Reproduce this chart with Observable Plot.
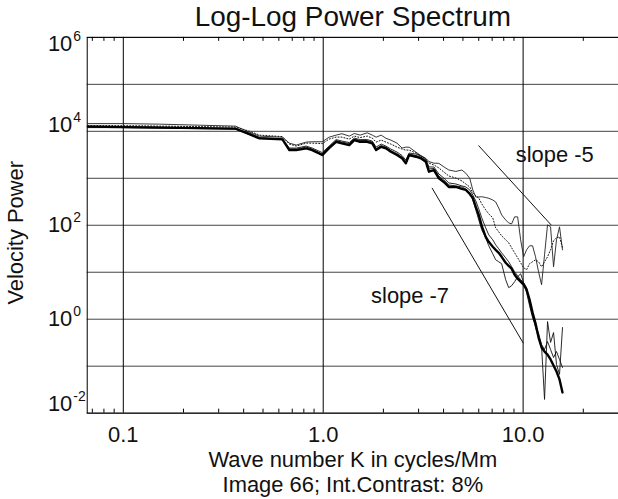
<!DOCTYPE html>
<html><head><meta charset="utf-8">
<script src="https://cdn.jsdelivr.net/npm/d3@7"></script>
<script src="https://cdn.jsdelivr.net/npm/@observablehq/plot@0.6"></script>
<style>
html,body{margin:0;padding:0;overflow:hidden;background:#fff;}
</style></head><body><div id="chart"></div>
<script>
// wave number K (cycles/Mm)
const k = [0.0665, 0.1, 0.152, 0.241, 0.364, 0.427, 0.48, 0.625, 0.677, 0.733, 0.823, 0.881, 0.989, 1.07, 1.16, 1.24, 1.35, 1.43, 1.53, 1.66, 1.76, 1.84, 1.95, 2.06, 2.18, 2.34, 2.48, 2.59, 2.69, 2.91, 3.08, 3.26, 3.38, 3.58, 3.79, 4.01, 4.25, 4.61, 4.94, 5.17, 5.41, 5.6, 5.8, 6.0, 6.21, 6.5, 6.73, 7.05, 7.29, 7.55, 7.81, 8.18, 8.47, 8.76, 9.07, 9.39, 9.72, 10.06, 10.41, 10.77, 11.15, 11.54, 11.95, 12.37, 12.8, 13.25, 13.72, 14.2, 14.69, 15.21, 15.74];

// velocity power, one array per spectrum
const specUpper = [14600, 14600, 14200, 13500, 12900, 9600, 7900, 7500, 5600, 5100, 5900, 6000, 6000, 7500, 8300, 8900, 7900, 9000, 8300, 9300, 8300, 7500, 8300, 7100, 6500, 5600, 4400, 4600, 4600, 3600, 3050, 2660, 2270, 2100, 2080, 1760, 1500, 1400, 1500, 1280, 1000, 565, 400, 400, 405, 390, 376, 346, 314, 234, 166, 130, 112, 107, 151, 151, 49, 21.3, 30, 36.6, 36.6, 21.3, 10.2, 5.43, 23.5, 102, 92.5, 13.1, 49, 92.5, 30];
const specThick = [12600, 12300, 12000, 11700, 11400, 8700, 7070, 6730, 3990, 3990, 4340, 3990, 3125, 4400, 5990, 5540, 5095, 6506, 5990, 5990, 5540, 3990, 4690, 4340, 3670, 3125, 2660, 2080, 3125, 2880, 2660, 2250, 1380, 1500, 1000, 835, 654, 654, 593, 565, 464, 382, 246, 166, 97, 56.8, 44.4, 34.8, 30, 25.9, 21.3, 15.9, 13.7, 11.9, 8.85, 7.28, 6.29, 5.43, 4.25, 2.61, 1.38, 0.806, 0.407, 0.2495, 0.205, 0.177, 0.139, 0.1035, 0.0772, 0.0522, 0.0276];
const specMid = [12000, 12000, 11700, 11400, 11100, 9160, 7350, 7000, 4400, 4400, 4850, 4400, 3530, 4850, 6670, 6200, 5760, 7170, 6670, 6670, 6200, 4620, 5350, 4850, 4190, 3620, 3050, 2447, 3450, 3280, 2980, 2570, 1740, 1740, 1235, 1015, 795, 757, 687, 654, 565, 442, 330, 223, 144, 88, 62.6, 49, 38.4, 31.6, 25.9, 20.3, 16.7, 13.1, 10.2, 8.43, 6.93, 5.99, 4.69, 2.25, 1.19, 0.663, 0.407, 0.262, 0.0196, 0.89, 0.32, 0.52, 0.109, 0.067, 0.663];
const specLow = [12900, 12600, 12300, 11700, 11400, 8510, 7170, 6830, 4190, 4190, 4620, 4190, 3280, 4620, 6350, 5900, 5480, 6830, 6350, 6350, 5900, 4290, 4970, 4620, 3890, 3360, 2830, 2270, 3280, 3050, 2830, 2390, 1580, 1620, 1120, 920, 721, 687, 654, 593, 488, 346, 212, 130, 80, 54, 36.6, 24.7, 18.4, 16.7, 15.2, 6.93, 4.69, 5.17, 6.29, 8.03, 9.29, 5.99, 3.67, 1.94, 1.08, 0.731, 0.495, 0.289, 0.226, 0.335, 0.226, 0.153, 0.205, 0.139, 0.0938];
const specDotted = [13200, 13200, 12900, 12600, 12300, 10100, 8300, 7720, 5350, 4850, 5600, 5600, 5480, 6830, 7530, 7530, 6830, 7910, 7350, 7910, 7170, 5900, 6500, 5900, 5350, 4620, 4190, 3990, 3990, 3450, 2980, 2570, 2110, 1917, 1660, 1360, 1120, 1015, 877, 757, 654, 488, 421, 382, 285, 212, 175, 144, 88, 72.5, 59.6, 49, 42.3, 33.2, 25.9, 20.3, 15.9, 12.5, 11.3, 15.2, 16.7, 18.4, 16.7, 13.1, 16.7, 21.3, 30, 46.7, 54, 56.8, 33.2];

// reference slope lines (endpoints) and their labels
const slope5 = [{k: 6.0, p: 4920}, {k: 13.8, p: 102}];
const slope7 = [{k: 3.51, p: 613}, {k: 10.0, p: 0.314}];
const slopeLabels = [{k: 14.4, p: 2220, text: "slope -5"}, {k: 2.72, p: 2.25, text: "slope -7"}];

// axes
const xMajor = [0.1, 1, 10];
const xMajorLabels = ["0.1", "1.0", "10.0"];
const xMinor = [0.07, 0.08, 0.09, 0.2, 0.3, 0.4, 0.5, 0.6, 0.7, 0.8, 0.9, 2, 3, 4, 5, 6, 7, 8, 9, 20];
const yGrid = [1e-2, 1e-1, 1e0, 1e1, 1e2, 1e3, 1e4, 1e5, 1e6];
const yLabelTicks = [1e6, 1e4, 1e2, 1e0, 1e-2];

const title = "Log-Log Power Spectrum";
const xTitle = "Wave number K in cycles/Mm";
const caption = "Image 66; Int.Contrast: 8%";
const yTitle = "Velocity Power";

const rows = (vals) => k.map((kk, i) => ({k: kk, p: vals[i]}));
const font = "'Liberation Sans', Arial, Helvetica, sans-serif";

function yLabels(ticks, shift) {
  return [
    Plot.text(ticks, {y: d => d, frameAnchor: "left", dx: -15, dy: shift, textAnchor: "end", lineAnchor: "middle", text: () => "10", fontSize: 22, fill: "#111"}),
    Plot.text(ticks, {y: d => d, frameAnchor: "left", dx: -14, dy: shift - 3, textAnchor: "start", lineAnchor: "bottom", text: d => String(Math.round(Math.log10(d))), fontSize: 14, fill: "#111"})
  ];
}

const chart = Plot.plot({
  width: 620,
  height: 499,
  marginLeft: 87,
  marginRight: 0,
  marginTop: 37,
  marginBottom: 85,
  style: {fontFamily: font, background: "#fff"},
  x: {type: "log", domain: [0.066, 30], axis: null},
  y: {type: "log", domain: [0.01, 1e6], axis: null},
  marks: [
    Plot.ruleY(yGrid, {stroke: "#444", strokeWidth: 1}),
    Plot.ruleX(xMajor, {stroke: "#000", strokeWidth: 1}),
    Plot.tickX(xMinor, {x: d => d, insetBottom: 373, stroke: "#000"}),
    Plot.tickX(xMinor, {x: d => d, insetTop: 373, stroke: "#000"}),
    Plot.frame({stroke: "#000"}),
    Plot.line(rows(specLow), {x: "k", y: "p", stroke: "#111", strokeWidth: 0.9}),
    Plot.line(rows(specMid), {x: "k", y: "p", stroke: "#111", strokeWidth: 0.9}),
    Plot.line(rows(specUpper), {x: "k", y: "p", stroke: "#222", strokeWidth: 0.9}),
    Plot.line(rows(specDotted), {x: "k", y: "p", stroke: "#111", strokeWidth: 1, strokeDasharray: "1,2"}),
    Plot.line(rows(specThick), {x: "k", y: "p", stroke: "#000", strokeWidth: 2.4}),
    Plot.line(slope5, {x: "k", y: "p", stroke: "#111", strokeWidth: 1}),
    Plot.line(slope7, {x: "k", y: "p", stroke: "#111", strokeWidth: 1}),
    Plot.text(slopeLabels, {x: "k", y: "p", text: "text", lineAnchor: "bottom", fontSize: 22, fill: "#111"}),
    Plot.text(xMajor, {x: d => d, frameAnchor: "bottom", dy: 29, lineAnchor: "bottom", text: (d, i) => xMajorLabels[i], fontSize: 22, fill: "#111"}),
    ...yLabels([1e6], 7),
    ...yLabels([1e4], -6),
    ...yLabels([1e2, 1e0], 0),
    ...yLabels([1e-2], -9),
    Plot.text([title], {text: d => d, frameAnchor: "top", dy: -11, lineAnchor: "bottom", fontSize: 28, fill: "#111"}),
    Plot.text([xTitle], {text: d => d, frameAnchor: "bottom", dy: 54, lineAnchor: "bottom", fontSize: 22, fill: "#111"}),
    Plot.text([caption], {text: d => d, frameAnchor: "bottom", dy: 79, lineAnchor: "bottom", fontSize: 22, fill: "#111"}),
    Plot.text([yTitle], {text: d => d, frameAnchor: "left", dx: -64, dy: 7.5, rotate: -90, textAnchor: "middle", lineAnchor: "bottom", fontSize: 22, fill: "#111"})
  ]
});
document.getElementById("chart").appendChild(chart);
</script>
</body></html>
